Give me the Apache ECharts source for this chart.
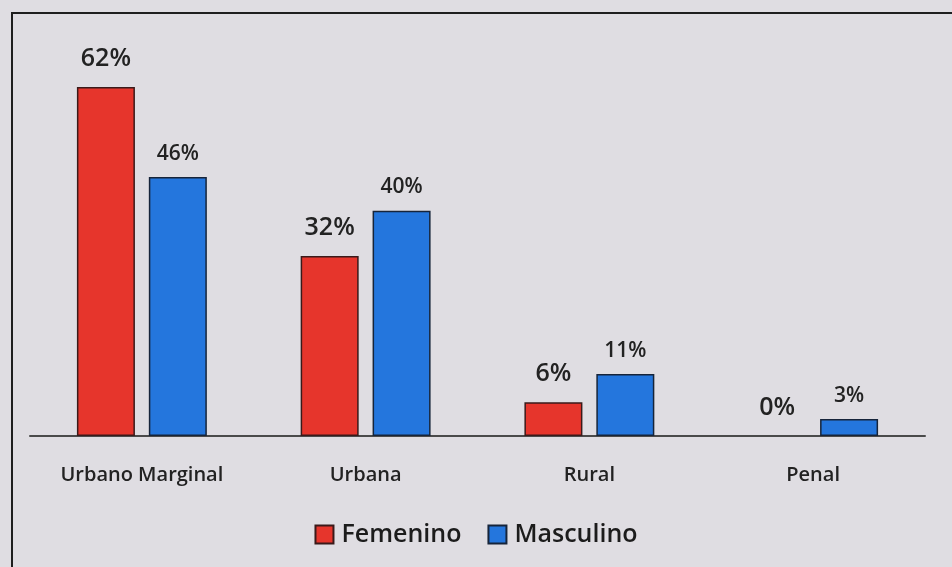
<!DOCTYPE html>
<html>
<head>
<meta charset="utf-8">
<script src="https://cdn.jsdelivr.net/npm/echarts@6/dist/echarts.min.js"></script>
<style>
  html, body { margin: 0; padding: 0; background: #dfdde2; }
  #chart { width: 952px; height: 567px; }
</style>
</head>
<body>
<div id="chart"></div>
<script>
// Distribución por zona y sexo (porcentajes)
const categories = ['Urbano Marginal', 'Urbana', 'Rural', 'Penal'];
const femenino = [62, 32, 6, 0];
const masculino = [46, 40, 11, 3];

const FONT = '"Open Sans", "Noto Sans", sans-serif';
const chart = echarts.init(document.getElementById('chart'));

chart.setOption({
  backgroundColor: '#dfdde2',
  animation: false,
  textStyle: { fontFamily: FONT, color: '#222' },
  graphic: [{
    type: 'rect',
    shape: { x: 12, y: 13, width: 980, height: 600 },
    style: { fill: 'none', stroke: '#1e1e1e', lineWidth: 2 },
    silent: true
  }],
  legend: {
    data: ['Femenino', 'Masculino'],
    bottom: 15,
    left: 'center',
    icon: 'rect',
    itemWidth: 18,
    itemHeight: 18,
    itemGap: 26,
    textStyle: { fontFamily: FONT, fontSize: 25, fontWeight: 600, color: '#1c1c1c', padding: [0, 0, 0, 3] }
  },
  grid: { left: 30, right: 27, top: 42, bottom: 131 },
  xAxis: {
    type: 'category',
    data: categories,
    axisLine: { lineStyle: { color: '#4a4a4a', width: 2 } },
    axisTick: { show: false },
    axisLabel: { fontFamily: FONT, fontSize: 20, fontWeight: 600, color: '#222', margin: 29 }
  },
  yAxis: {
    type: 'value',
    min: 0,
    max: 70,
    show: false,
    splitLine: { show: false }
  },
  series: [
    {
      name: 'Femenino',
      type: 'bar',
      data: femenino.map(v => v === 0
        ? { value: v, itemStyle: { borderWidth: 0 } }
        : v),
      barWidth: 58,
      barGap: '24%',
      itemStyle: { color: '#e6352c', borderColor: '#3a1a1a', borderWidth: 1.5 },
      label: {
        show: true,
        position: 'top',
        distance: 16,
        formatter: '{c}%',
        fontFamily: FONT,
        fontSize: 25,
        fontWeight: 600,
        color: '#222'
      }
    },
    {
      name: 'Masculino',
      type: 'bar',
      data: masculino,
      barWidth: 58,
      itemStyle: { color: '#2476dd', borderColor: '#16243a', borderWidth: 1.5 },
      label: {
        show: true,
        position: 'top',
        distance: 13,
        formatter: '{c}%',
        fontFamily: FONT,
        fontSize: 21,
        fontWeight: 600,
        color: '#222'
      }
    }
  ]
});
</script>
</body>
</html>
